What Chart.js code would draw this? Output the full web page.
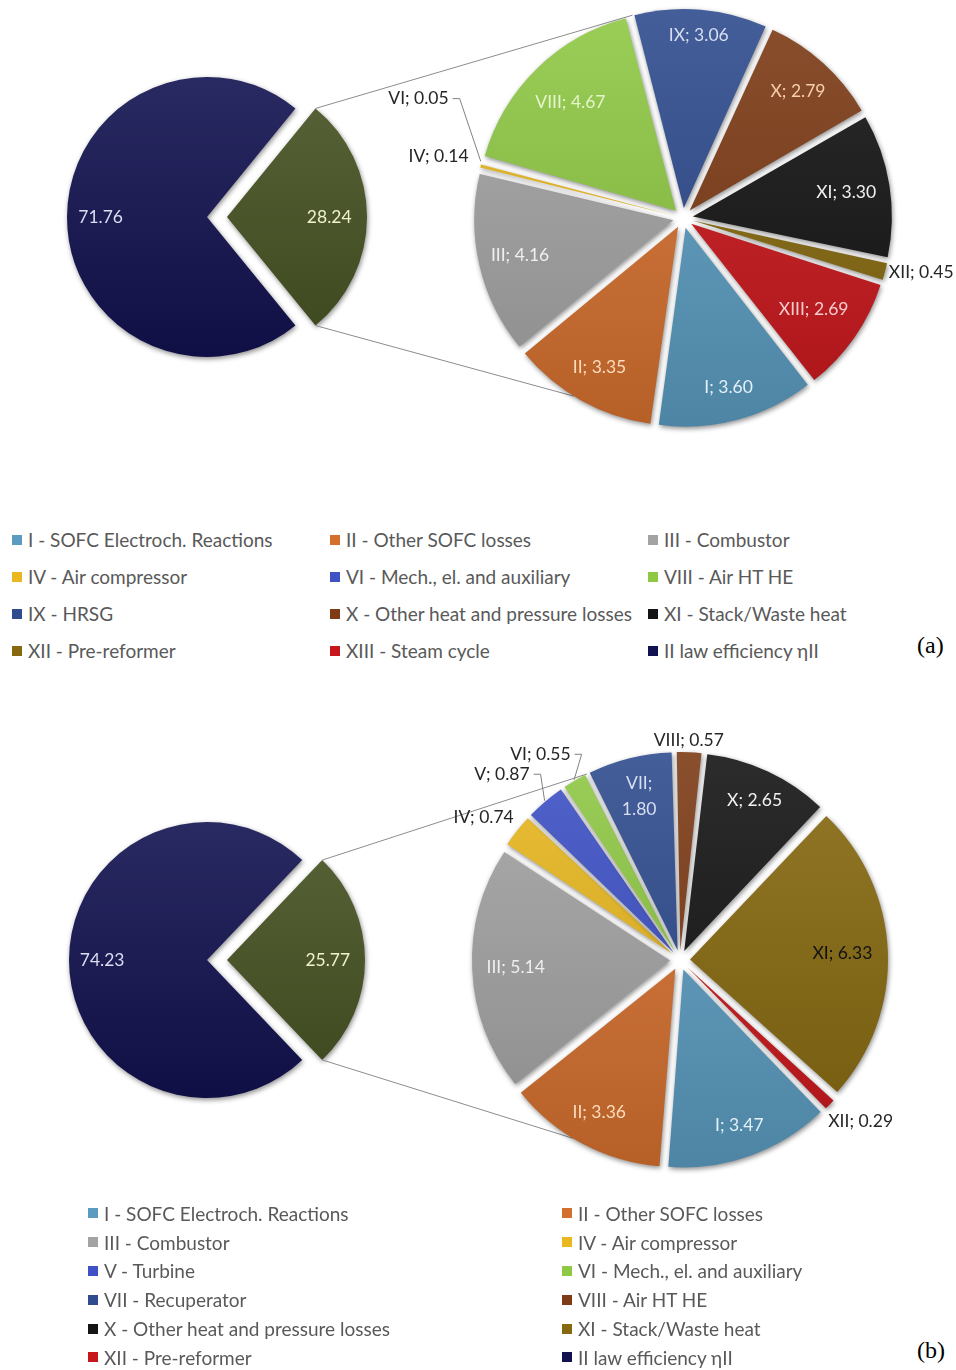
<!DOCTYPE html>
<html lang="en">
<head>
  <meta charset="UTF-8">
  <title>Exergy destruction breakdown</title>
  <script src="https://cdn.jsdelivr.net/npm/chart.js"></script>
  <style>
    body { margin: 0; background: #fff; font-family: Lato, sans-serif; }
    #page { position: relative; width: 956px; height: 1370px; overflow: hidden; }
    canvas { position: absolute; left: 0; }
    .legend { position: absolute; display: grid; font-size: 19px; color: #595959; }
    #legendA { left: 12px; top: 521px; grid-template-columns: 318px 318px 300px; grid-auto-rows: 37px; }
    #legendB { left: 88px; top: 1199px; grid-template-columns: 474px 300px; grid-auto-rows: 28.8px; }
    .item { display: flex; align-items: center; white-space: nowrap; }
    .sw { width: 10px; height: 10px; margin-right: 6px; flex: none; }
    .tag { position: absolute; left: 917px; font: 24px "Liberation Serif", serif; line-height: 28px; color: #000; }
  </style>
</head>
<body>
<div id="page">
  <canvas id="mainA" width="956" height="440" style="top:0"></canvas>
  <canvas id="partA" width="956" height="440" style="top:0"></canvas>
  <div id="legendA" class="legend"></div>
  <div class="tag" style="top:631px">(a)</div>

  <canvas id="mainB" width="956" height="520" style="top:700px"></canvas>
  <canvas id="partB" width="956" height="520" style="top:700px"></canvas>
  <div id="legendB" class="legend"></div>
  <div class="tag" style="top:1336px">(b)</div>
</div>

<script>
  // ---- data (a) ----
  const mainA = [28.24, 71.76];          // [destruction, II law efficiency]
  const codesA = ['I', 'II', 'III', 'IV', 'VI', 'VIII', 'IX', 'X', 'XI', 'XII', 'XIII'];
  const valuesA = [3.60, 3.35, 4.16, 0.14, 0.05, 4.67, 3.06, 2.79, 3.30, 0.45, 2.69];
  const namesA = ['SOFC Electroch. Reactions', 'Other SOFC losses', 'Combustor', 'Air compressor',
    'Mech., el. and auxiliary', 'Air HT HE', 'HRSG', 'Other heat and pressure losses',
    'Stack/Waste heat', 'Pre-reformer', 'Steam cycle'];

  // ---- data (b) ----
  const mainB = [25.77, 74.23];
  const codesB = ['I', 'II', 'III', 'IV', 'V', 'VI', 'VII', 'VIII', 'X', 'XI', 'XII'];
  const valuesB = [3.47, 3.36, 5.14, 0.74, 0.87, 0.55, 1.80, 0.57, 2.65, 6.33, 0.29];
  const namesB = ['SOFC Electroch. Reactions', 'Other SOFC losses', 'Combustor', 'Air compressor',
    'Turbine', 'Mech., el. and auxiliary', 'Recuperator', 'Air HT HE',
    'Other heat and pressure losses', 'Stack/Waste heat', 'Pre-reformer'];

  const effLabel = 'II law efficiency ηII';

  // ---- styles ----
  const palette = ['#5b9bc0', '#d4702e', '#a3a3a3', '#e9b820', '#3e52c6', '#8fc844',
    '#2f4c8f', '#7d3b16', '#141414', '#86690f', '#c8171c'];
  const tints = ['#e2f0f8', '#fddcbc', '#efefef', '#fff2c0', '#dde2fa', '#e4f4cc',
    '#d7def0', '#f8cfae', '#f0f0f0', '#111111', '#f7cccc'];
  const mainColors = ['#465222', '#121250'];
  const mainTints = ['#eef2d0', '#dcdcf0'];
  const FONT = '17.5px Lato, sans-serif';

  // label placement per slice: f = fraction of radius inside, out = px beyond rim
  const specsA = [
    { f: 0.83 }, { f: 0.81 }, { f: 0.79 },
    { out: 24, align: 'right', angle: 286 },
    { out: 64, align: 'right', angle: 297, leader: true },
    { f: 0.76 }, { f: 0.87 }, { f: 0.81 }, { f: 0.78 },
    { out: 14, align: 'left' },
    { f: 0.75 }
  ];
  const specsB = [
    { f: 0.835 }, { f: 0.82 }, { f: 0.78 },
    { out: 21, align: 'right', angle: 310.6 },
    { out: 41, align: 'right', angle: 321, leader: true },
    { out: 35, align: 'right', angle: 332, leader: true },
    { f: 0.8, wrap: true },
    { out: 22, align: 'center', angle: 2.3 },
    { f: 0.84 }, { f: 0.77 },
    { out: 21, align: 'left', angle: 137.4 }
  ];
  const mainSpecs = [{ f: 0.73 }, { f: 0.76 }];

  const rad = deg => (deg - 90) * Math.PI / 180;

  function arcGeom(el) {
    const p = el.getProps(['x', 'y', 'startAngle', 'endAngle', 'outerRadius'], true);
    const mid = (p.startAngle + p.endAngle) / 2;
    const t = (el.options.offset || 0) / 4;
    const r = el.rim !== undefined ? el.rim : p.outerRadius;
    return { ...p, outerRadius: r, mid, t, cx: p.x + Math.cos(mid) * t, cy: p.y + Math.sin(mid) * t };
  }

  // Chart.js grows thin exploded slices; pull them back so every rim is even
  const evenRim = {
    id: 'evenRim',
    afterDatasetUpdate(chart) {
      chart.getDatasetMeta(0).data.forEach(el => {
        const t = (el.options.offset || 0) / 4;
        const fix = 1 - Math.sin(Math.min(Math.PI, el.circumference));
        el.rim = el.outerRadius;
        el.outerRadius = el.rim - t * fix;
      });
    }
  };

  function mix(hex, k) {
    const n = parseInt(hex.slice(1), 16);
    const f = c => Math.round(k > 0 ? c + (255 - c) * k : c * (1 + k));
    return 'rgb(' + f(n >> 16) + ',' + f((n >> 8) & 255) + ',' + f(n & 255) + ')';
  }

  // soft top-to-bottom shading like the office chart style
  function fills(colors, radius) {
    return ctx => {
      const base = colors[ctx.dataIndex];
      const area = ctx.chart.chartArea;
      if (!area || base === undefined) return base;
      const cy = (area.top + area.bottom) / 2;
      const g = ctx.chart.ctx.createLinearGradient(0, cy - radius, 0, cy + radius);
      g.addColorStop(0, mix(base, 0.1));
      g.addColorStop(1, mix(base, -0.14));
      return g;
    };
  }

  const shade = {
    id: 'shade',
    beforeDatasetsDraw(chart) {
      const c = chart.ctx;
      c.save();
      c.shadowColor = 'rgba(0,0,0,0.45)';
      c.shadowBlur = 5;
      c.shadowOffsetX = 1;
      c.shadowOffsetY = 2;
    },
    afterDatasetsDraw(chart) { chart.ctx.restore(); }
  };

  function sliceText(texts, colors, specs) {
    return {
      id: 'sliceText',
      afterDatasetsDraw(chart) {
        const ctx = chart.ctx;
        ctx.save();
        ctx.font = FONT;
        ctx.textBaseline = 'middle';
        chart.getDatasetMeta(0).data.forEach((el, i) => {
          const g = arcGeom(el);
          const s = specs[i];
          const text = texts[i];
          if (s.out === undefined) {
            const x = g.cx + Math.cos(g.mid) * g.outerRadius * s.f;
            const y = g.cy + Math.sin(g.mid) * g.outerRadius * s.f;
            ctx.fillStyle = colors[i];
            ctx.textAlign = 'center';
            if (s.wrap) {
              const parts = text.split(' ');
              ctx.fillText(parts[0], x, y - 13);
              ctx.fillText(parts[1], x, y + 13);
            } else {
              ctx.fillText(text, x, y);
            }
          } else {
            const a = s.angle !== undefined ? rad(s.angle) : g.mid;
            const d = g.outerRadius + s.out;
            const x = g.x + Math.cos(a) * d;
            const y = g.y + Math.sin(a) * d;
            ctx.fillStyle = '#262626';
            ctx.textAlign = s.align;
            ctx.fillText(text, x, y);
            if (s.leader) {
              const ex = g.cx + Math.cos(g.mid) * (g.outerRadius + 1);
              const ey = g.cy + Math.sin(g.mid) * (g.outerRadius + 1);
              ctx.strokeStyle = '#808080';
              ctx.lineWidth = 1;
              ctx.beginPath();
              ctx.moveTo(x + 4, y);
              ctx.lineTo(x + 11, y);
              ctx.lineTo(ex, ey);
              ctx.stroke();
            }
          }
        });
        ctx.restore();
      }
    };
  }

  // lines from the exploded slice of the first pie to the rim of the second
  function connector(primary, topDeg, bottomDeg) {
    return {
      id: 'connector',
      beforeDatasetsDraw(chart) {
        const ctx = chart.ctx;
        const src = arcGeom(primary.getDatasetMeta(0).data[0]);
        const dst = arcGeom(chart.getDatasetMeta(0).data[0]);
        const R = dst.outerRadius + dst.t;
        ctx.save();
        ctx.strokeStyle = '#8c8c8c';
        ctx.lineWidth = 1;
        ctx.beginPath();
        [[src.startAngle, topDeg], [src.endAngle, bottomDeg]].forEach(([a, deg]) => {
          ctx.moveTo(src.cx + Math.cos(a) * src.outerRadius, src.cy + Math.sin(a) * src.outerRadius);
          ctx.lineTo(dst.x + Math.cos(rad(deg)) * R, dst.y + Math.sin(rad(deg)) * R);
        });
        ctx.stroke();
        ctx.restore();
      }
    };
  }

  function padFor(cx, cy, w, h) {
    return {
      left: Math.max(0, 2 * cx - w), right: Math.max(0, w - 2 * cx),
      top: Math.max(0, 2 * cy - h), bottom: Math.max(0, h - 2 * cy)
    };
  }

  function pie(canvas, values, colors, offsets, rotation, radius, center, plugins) {
    return new Chart(canvas, {
      type: 'pie',
      data: {
        labels: values.map((v, i) => String(i)),
        datasets: [{
          data: values,
          backgroundColor: fills(colors, radius),
          borderWidth: 0,
          offset: offsets,
          hoverOffset: 0,
          clip: false
        }]
      },
      options: {
        responsive: false,
        animation: false,
        events: [],
        rotation: rotation,
        radius: radius,
        layout: { padding: padFor(center[0], center[1], canvas.width, canvas.height) },
        plugins: { legend: { display: false }, tooltip: { enabled: false } }
      },
      plugins: plugins
    });
  }

  function buildPanel(ids, main, codes, values, specs, geo) {
    const mainCanvas = document.getElementById(ids[0]);
    const partCanvas = document.getElementById(ids[1]);
    const share = main[0] / (main[0] + main[1]);
    const primary = pie(mainCanvas, main, mainColors, [80, 0], 90 - share * 180,
      geo.mainR, geo.mainC,
      [evenRim, shade, sliceText(main.map(v => v.toFixed(2)), mainTints, mainSpecs)]);
    const texts = codes.map((c, i) => c + '; ' + values[i].toFixed(2));
    pie(partCanvas, values, palette.slice(0, values.length), values.map(() => 40), geo.rot,
      geo.partR, geo.partC,
      [evenRim, connector(primary, geo.top, geo.bottom), shade, sliceText(texts, tints, specs)]);
  }

  buildPanel(['mainA', 'partA'], mainA, codesA, valuesA, specsA,
    { mainR: 140, mainC: [207, 217], partR: 199, partC: [683, 218], rot: 142, top: 346, bottom: 211.5 });
  buildPanel(['mainB', 'partB'], mainB, codesB, valuesB, specsB,
    { mainR: 138, mainC: [207, 260], partR: 198, partC: [680, 260], rot: 136, top: 333.4, bottom: 211 });

  function buildLegend(id, codes, names) {
    const box = document.getElementById(id);
    const rows = codes.map((c, i) => [c + ' - ' + names[i], palette[i]]);
    rows.push([effLabel, mainColors[1]]);
    rows.forEach(([text, color]) => {
      const item = document.createElement('div');
      item.className = 'item';
      const sw = document.createElement('span');
      sw.className = 'sw';
      sw.style.background = color;
      item.appendChild(sw);
      item.appendChild(document.createTextNode(text));
      box.appendChild(item);
    });
  }
  buildLegend('legendA', codesA, namesA);
  buildLegend('legendB', codesB, namesB);
</script>
</body>
</html>
